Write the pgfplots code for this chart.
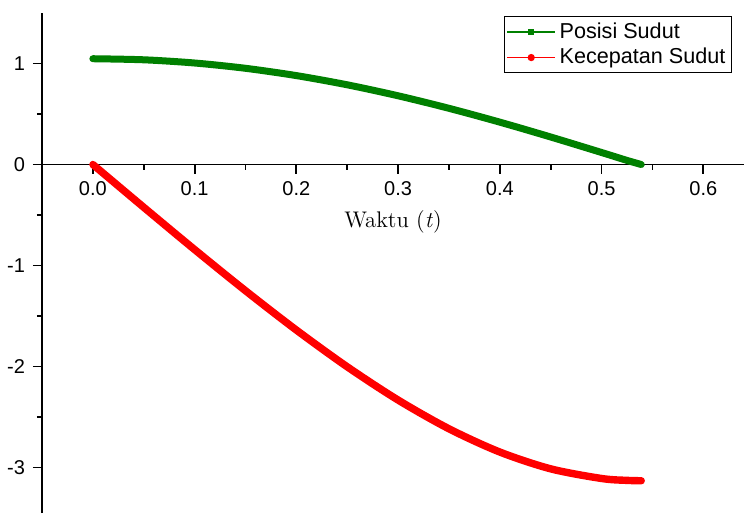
\documentclass[border=0pt]{standalone}
\usepackage{fontspec}
\setmainfont{Latin Modern Roman}
\newfontfamily\arial{Liberation Sans}
\usepackage{pgfplots}
\pgfplotsset{compat=1.18}
\definecolor{posisi}{RGB}{0,128,0}
\definecolor{kecepatan}{RGB}{255,0,0}

% pendulum: angle (rad) and angular velocity (rad/s) against time (s)
\pgfplotstableread{
t      theta    omega
0.000  1.0472   0.0000
0.050  1.0366  -0.4237
0.100  1.0049  -0.8421
0.150  0.9525  -1.2493
0.200  0.8802  -1.6387
0.250  0.7890  -2.0025
0.300  0.6803  -2.3316
0.350  0.5563  -2.6162
0.400  0.4194  -2.8464
0.450  0.2724  -3.0128
0.500  0.1189  -3.1083
0.525  0.0405  -3.1270
0.539  0.0000  -3.1305
}\pendulum

\begin{document}
\begin{tikzpicture}
\begin{axis}[
    scale only axis,
    width=351pt, height=250pt,
    xmin=-0.05, xmax=0.64,
    ymin=-3.45, ymax=1.5,
    axis x line=middle,
    axis y line=left,
    axis line style={-, line width=0.9pt, black},
    tick align=outside,
    major tick length=4.5pt,
    minor tick length=2.5pt,
    every tick/.style={black, line width=0.9pt},
    xtick={0,0.1,...,0.6},
    ytick={-3,-2,-1,0,1},
    minor x tick num=1,
    minor y tick num=1,
    xticklabel style={/pgf/number format/fixed, /pgf/number format/fixed zerofill,
        /pgf/number format/precision=1, yshift=-0.5pt},
    /pgf/number format/assume math mode=true,
    tick label style={font=\arial\fontsize{10}{11}\selectfont},
    yticklabel style={xshift=-0.5pt},
    xlabel={Waktu (\textit{t})},
    xlabel style={at={(axis description cs:0.5,0.582)}, anchor=center,
        font=\fontsize{11.3}{13}\selectfont},
    legend style={at={(axis description cs:0.983,0.994)}, anchor=north east,
        font=\arial\fontsize{10.8}{12}\selectfont, draw=black, line width=0.6pt,
        inner xsep=1pt, inner ysep=1pt, row sep=-0.5pt,
        cells={anchor=west}},
    legend image code/.code={
        \draw[mark repeat=2, mark phase=2, line width=0.6pt]
            plot coordinates {(0cm,0cm) (0.42cm,0cm) (0.84cm,0cm)};},
    clip=false,
]
\addlegendimage{color=posisi, mark=square*, mark size=1.3pt}
\addlegendentry{Posisi Sudut}
\addlegendimage{color=kecepatan, mark=*, mark size=1.5pt}
\addlegendentry{Kecepatan Sudut}
\addplot[color=posisi, line width=3.5pt, line cap=round, smooth, forget plot]
    table[x=t, y=theta] {\pendulum};
\addplot[color=kecepatan, line width=3.7pt, line cap=round, smooth, forget plot]
    table[x=t, y=omega] {\pendulum};
\end{axis}
\pgfresetboundingbox
\path[use as bounding box] ([xshift=-21pt]current axis.south west)
    rectangle ([yshift=6.5pt]current axis.north east);
\end{tikzpicture}
\end{document}
